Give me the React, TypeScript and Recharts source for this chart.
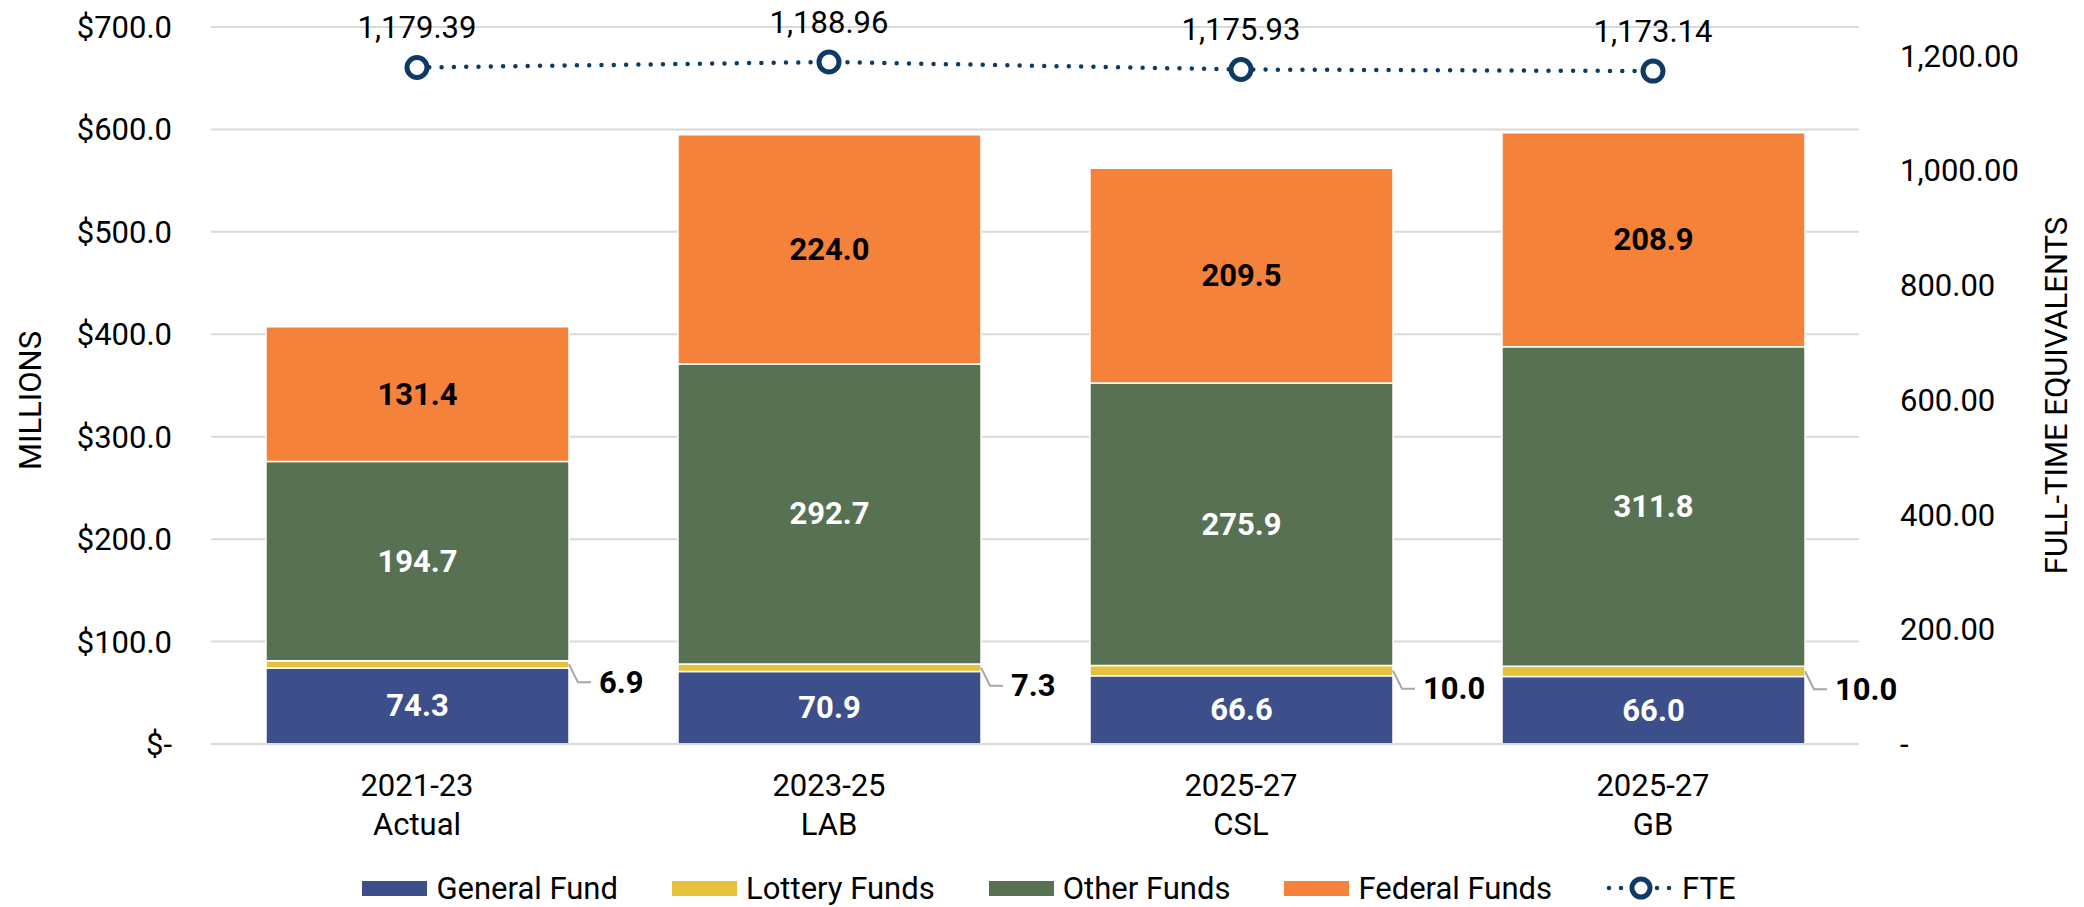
import React from 'react';
import { ComposedChart, Bar, Line, XAxis, YAxis, CartesianGrid, Legend, LabelList, Label } from 'recharts';

const periods = ['2021-23', '2023-25', '2025-27', '2025-27'];
const stages = ['Actual', 'LAB', 'CSL', 'GB'];
const generalFund = [74.3, 70.9, 66.6, 66.0];
const lotteryFunds = [6.9, 7.3, 10.0, 10.0];
const otherFunds = [194.7, 292.7, 275.9, 311.8];
const federalFunds = [131.4, 224.0, 209.5, 208.9];
const fte = [1179.39, 1188.96, 1175.93, 1173.14];
const moneyTicks = [0, 100, 200, 300, 400, 500, 600, 700];
const fteTicks = [0, 200, 400, 600, 800, 1000, 1200];

const FONT = 'Roboto, "Noto Sans", sans-serif';
const colors = {
  general: '#3D4F8B',
  lottery: '#E5C13C',
  other: '#577152',
  federal: '#F4823A',
  fte: '#0E3A66',
  grid: '#D9D9D9',
};

const data = periods.map((p, i) => ({
  label: `${p}\n${stages[i]}`,
  general: generalFund[i],
  lottery: lotteryFunds[i],
  other: otherFunds[i],
  federal: federalFunds[i],
  fte: fte[i],
}));

const legendItems = [
  { name: 'General Fund', color: colors.general },
  { name: 'Lottery Funds', color: colors.lottery },
  { name: 'Other Funds', color: colors.other },
  { name: 'Federal Funds', color: colors.federal },
];

const fmtMoney = (v: number) => (v === 0 ? '$-' : `$${v.toFixed(1)}`);
const fmtFte = (v: number) =>
  v === 0 ? '-' : v.toLocaleString('en-US', { minimumFractionDigits: 2, maximumFractionDigits: 2 });

const CategoryTick = ({ x, y, payload }: any) => {
  const [a, b] = String(payload.value).split('\n');
  return (
    <text x={x} y={y} textAnchor="middle" fontFamily={FONT} fontSize={31} fill="#000">
      <tspan x={x} dy={50}>{a}</tspan>
      <tspan x={x} dy={39}>{b}</tspan>
    </text>
  );
};

const centerLabel = (fill: string) => ({ x, y, width, height, value }: any) => (
  <text
    x={x + width / 2}
    y={y + height / 2}
    textAnchor="middle"
    dominantBaseline="central"
    fontFamily={FONT}
    fontWeight={700}
    fontSize={31}
    fill={fill}
  >
    {Number(value).toFixed(1)}
  </text>
);

// lottery values sit outside the bar with a little leader line
const LotteryLabel = ({ x, y, width, height, value }: any) => {
  const x0 = x + width;
  const y0 = y + height / 2;
  const y1 = y0 + 18;
  return (
    <g>
      <polyline
        points={`${x0},${y0} ${x0 + 9},${y1} ${x0 + 22},${y1}`}
        fill="none"
        stroke="#A6A6A6"
        strokeWidth={2}
      />
      <text
        x={x0 + 30}
        y={y1}
        dominantBaseline="central"
        fontFamily={FONT}
        fontWeight={700}
        fontSize={31}
        fill="#000"
      >
        {Number(value).toFixed(1)}
      </text>
    </g>
  );
};

const FteLabel = ({ x, y, value }: any) => (
  <text x={x} y={y - 40} textAnchor="middle" dominantBaseline="central" fontFamily={FONT} fontSize={31} fill="#000">
    {fmtFte(value)}
  </text>
);

const FteDot = ({ cx, cy, index }: any) => (
  <circle key={`fte-dot-${index}`} cx={cx} cy={cy} r={10} fill="#fff" stroke={colors.fte} strokeWidth={5} />
);

const LeftTitle = ({ viewBox }: any) => {
  const cx = viewBox.x + 30;
  const cy = viewBox.y + viewBox.height / 2 + 15;
  return (
    <text x={cx} y={cy} transform={`rotate(-90 ${cx} ${cy})`} textAnchor="middle" dominantBaseline="central"
      fontFamily={FONT} fontSize={31} fill="#000">
      MILLIONS
    </text>
  );
};

const RightTitle = ({ viewBox }: any) => {
  const cx = viewBox.x + 197;
  const cy = viewBox.y + viewBox.height / 2 + 10;
  return (
    <text x={cx} y={cy} transform={`rotate(-90 ${cx} ${cy})`} textAnchor="middle" dominantBaseline="central"
      fontFamily={FONT} fontSize={31} fill="#000">
      FULL-TIME EQUIVALENTS
    </text>
  );
};

const renderLegend = () => (
  <div
    style={{
      display: 'flex',
      justifyContent: 'center',
      alignItems: 'center',
      height: 50,
      paddingTop: 12,
      paddingLeft: 14,
      boxSizing: 'border-box',
      fontFamily: FONT,
      fontSize: 31,
      color: '#000',
    }}
  >
    {legendItems.map((it) => (
      <div key={it.name} style={{ display: 'flex', alignItems: 'center', marginRight: 54 }}>
        <svg width={65} height={15} style={{ marginRight: 9 }}>
          <rect width={65} height={15} fill={it.color} />
        </svg>
        <span>{it.name}</span>
      </div>
    ))}
    <div style={{ display: 'flex', alignItems: 'center' }}>
      <svg width={70} height={28} style={{ marginRight: 6 }}>
        <line x1={3} y1={14} x2={67} y2={14} stroke={colors.fte} strokeWidth={4.5} strokeDasharray="0 12" strokeLinecap="round" />
        <circle cx={35} cy={14} r={9} fill="#fff" stroke={colors.fte} strokeWidth={5} />
      </svg>
      <span>FTE</span>
    </div>
  </div>
);

export default function App() {
  return (
    <div style={{ position: 'absolute', left: 0, top: 0, background: '#fff' }}>
      <ComposedChart width={2084} height={907} data={data} margin={{ top: 27, right: 0, bottom: 0, left: 0 }}>
        <CartesianGrid vertical={false} yAxisId="left" stroke={colors.grid} strokeWidth={2} />
        <XAxis
          dataKey="label"
          height={113}
          tick={<CategoryTick />}
          tickLine={false}
          tickSize={0}
          axisLine={{ stroke: colors.grid, strokeWidth: 2 }}
          interval={0}
        />
        <YAxis
          yAxisId="left"
          width={211}
          domain={[0, 700]}
          ticks={moneyTicks}
          tickFormatter={fmtMoney}
          axisLine={false}
          tickLine={false}
          tickSize={0}
          tickMargin={39}
          tick={{ fontFamily: FONT, fontSize: 31, fill: '#000' }}
        >
          <Label content={<LeftTitle />} />
        </YAxis>
        <YAxis
          yAxisId="right"
          orientation="right"
          width={225}
          domain={[0, 1250]}
          ticks={fteTicks}
          tickFormatter={fmtFte}
          axisLine={false}
          tickLine={false}
          tickSize={0}
          tickMargin={41}
          tick={{ fontFamily: FONT, fontSize: 31, fill: '#000' }}
        >
          <Label content={<RightTitle />} />
        </YAxis>
        <Legend verticalAlign="bottom" align="center" content={renderLegend} />
        <Bar dataKey="general" name="General Fund" stackId="a" yAxisId="left" fill={colors.general} barSize={303}
          stroke="#fff" strokeWidth={1.5} isAnimationActive={false}>
          <LabelList dataKey="general" content={centerLabel('#fff')} />
        </Bar>
        <Bar dataKey="lottery" name="Lottery Funds" stackId="a" yAxisId="left" fill={colors.lottery} barSize={303}
          stroke="#fff" strokeWidth={1.5} isAnimationActive={false}>
          <LabelList dataKey="lottery" content={<LotteryLabel />} />
        </Bar>
        <Bar dataKey="other" name="Other Funds" stackId="a" yAxisId="left" fill={colors.other} barSize={303}
          stroke="#fff" strokeWidth={1.5} isAnimationActive={false}>
          <LabelList dataKey="other" content={centerLabel('#fff')} />
        </Bar>
        <Bar dataKey="federal" name="Federal Funds" stackId="a" yAxisId="left" fill={colors.federal} barSize={303}
          stroke="#fff" strokeWidth={1.5} isAnimationActive={false}>
          <LabelList dataKey="federal" content={centerLabel('#000')} />
        </Bar>
        <Line
          dataKey="fte"
          name="FTE"
          yAxisId="right"
          type="linear"
          stroke={colors.fte}
          strokeWidth={4.5}
          strokeDasharray="0 12.3"
          strokeLinecap="round"
          dot={FteDot}
          activeDot={false}
          isAnimationActive={false}
        >
          <LabelList dataKey="fte" content={<FteLabel />} />
        </Line>
      </ComposedChart>
    </div>
  );
}
